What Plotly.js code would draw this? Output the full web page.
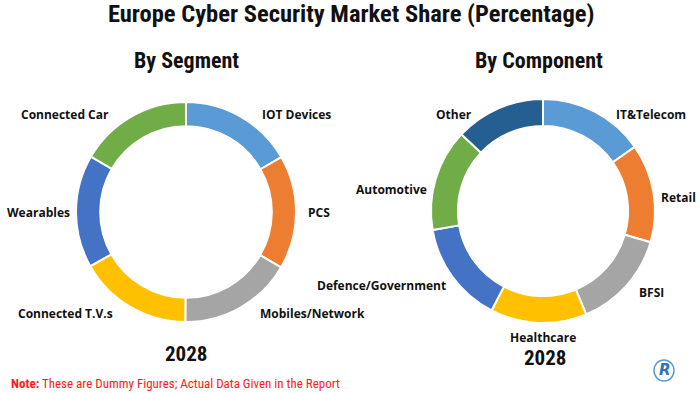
<!DOCTYPE html>
<html>
<head>
<meta charset="utf-8">
<script src="https://cdn.plot.ly/plotly-3.0.1.min.js"></script>
<style>html,body{margin:0;padding:0;background:#fff;}#chart{width:700px;height:393px;}</style>
</head>
<body>
<div id="chart"></div>
<script>
// Data
var segmentLabels = ["IOT Devices", "PCS", "Mobiles/Network", "Connected T.V.s", "Wearables", "Connected Car"];
var segmentValues = [16.7, 16.7, 16.7, 16.7, 16.6, 16.6];
var segmentColors = ["#5B9BD5", "#ED7D31", "#A5A5A5", "#FFC000", "#4472C4", "#70AD47"];

var componentLabels = ["IT&Telecom", "Retail", "BFSI", "Healthcare", "Defence/Government", "Automotive", "Other"];
var componentValues = [15.3, 14.2, 14.2, 13.9, 14.7, 14.7, 13.0];
var componentColors = ["#5B9BD5", "#ED7D31", "#A5A5A5", "#FFC000", "#4472C4", "#70AD47", "#255E91"];

var mainTitle = "Europe Cyber Security Market Share (Percentage)";
var leftTitle = "By Segment";
var rightTitle = "By Component";
var yearLabel = "2028";
var noteBold = "Note:";
var noteText = " These are Dummy Figures; Actual Data Given in the Report";

var W = 700, H = 393;
function px(x){return x/W;}
function py(y){return 1 - y/H;}

var condensed = "Liberation Sans Narrow, Roboto Condensed, DejaVu Sans Condensed, Arial Narrow, sans-serif";
var labelFont = {family: "Open Sans, Arial, sans-serif", size: 12, color: "#111"};

var traces = [
  {
    type: "pie", labels: segmentLabels, values: segmentValues,
    marker: {colors: segmentColors, line: {color: "#fff", width: 2}},
    hole: 0.78, sort: false, direction: "clockwise", rotation: 0,
    textinfo: "none", hoverinfo: "label+value",
    domain: {x: [px(76), px(296)], y: [py(322), py(102)]}
  },
  {
    type: "pie", labels: componentLabels, values: componentValues,
    marker: {colors: componentColors, line: {color: "#fff", width: 2}},
    hole: 0.76, sort: false, direction: "clockwise", rotation: 0,
    textinfo: "none", hoverinfo: "label+value",
    domain: {x: [px(431), px(655)], y: [py(323), py(99)]}
  }
];

// label placement positions (pixels) for slice labels
var segPos = [[296,114],[319,212],[312,313],[65,313],[38,212],[65,114]];
var compPos = [[651,114],[678,197],[651,292],[543,337],[381,285],[391,189],[454,114]];

var annotations = [];
function addText(text, x, y, font, xanchor){
  annotations.push({text: text, x: px(x), y: py(y), xref: "paper", yref: "paper",
    xanchor: xanchor || "center", yanchor: "middle", showarrow: false, font: font});
}
segmentLabels.forEach(function(l,i){ addText("<b>"+l+"</b>", segPos[i][0], segPos[i][1], labelFont); });
componentLabels.forEach(function(l,i){ addText("<b>"+l+"</b>", compPos[i][0], compPos[i][1], labelFont); });

addText("<b>"+mainTitle+"</b>", 351, 14, {family: condensed, size: 24.5, color: "#111"});
addText("<b>"+leftTitle+"</b>", 186, 60, {family: condensed, size: 22, color: "#111"});
addText("<b>"+rightTitle+"</b>", 539, 60, {family: condensed, size: 22, color: "#111"});
addText("<b>"+yearLabel+"</b>", 186, 354, {family: condensed, size: 21, color: "#111"});
addText("<b>"+yearLabel+"</b>", 545, 358, {family: condensed, size: 21, color: "#111"});
addText("<b>"+noteBold+"</b>"+noteText, 9, 383, {family: condensed, size: 13, color: "#FF1A1A"}, "left");
addText("<i><b>R</b></i>", 665, 370, {family: "DejaVu Sans, sans-serif", size: 15, color: "#2E75B6"});

var layout = {
  width: W, height: H,
  margin: {l: 0, r: 0, t: 0, b: 0},
  paper_bgcolor: "#fff", plot_bgcolor: "#fff",
  showlegend: false,
  annotations: annotations,
  shapes: [
    {type: "circle", xref: "paper", yref: "paper", x0: px(654), x1: px(674), y0: py(381), y1: py(360),
     line: {color: "#5B9BD5", width: 1.5}}
  ]
};

Plotly.newPlot("chart", traces, layout, {displayModeBar: false, staticPlot: true});
</script>
</body>
</html>
